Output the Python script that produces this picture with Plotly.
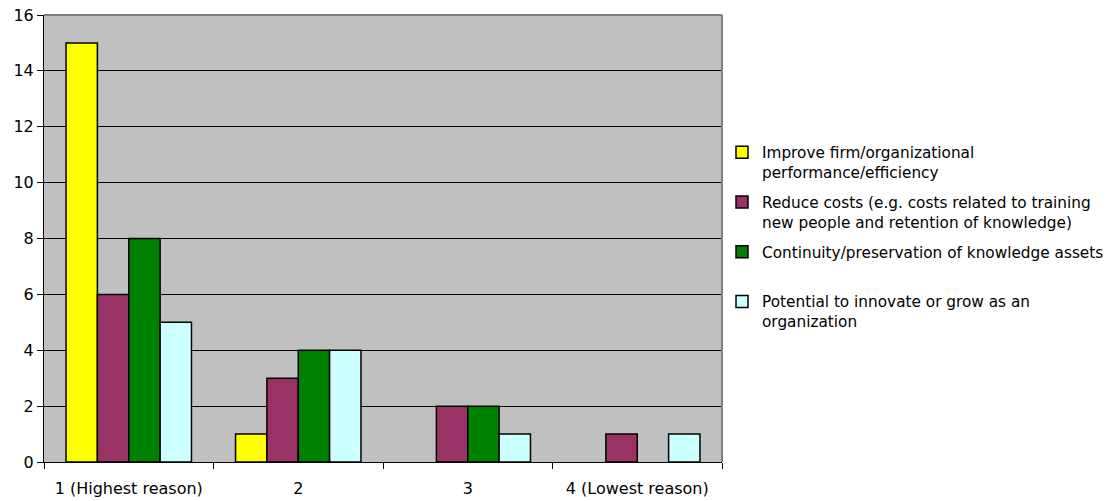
import plotly.graph_objects as go

categories = ["1 (Highest reason)", "2", "3", "4 (Lowest reason)"]
series_names = [
    "Improve firm/organizational<br>performance/efficiency",
    "Reduce costs (e.g. costs related to training<br>new people and retention of knowledge)",
    "Continuity/preservation of knowledge assets<br> ",
    "Potential to innovate or grow as an<br>organization",
]
improve = [15, 1, 0, 0]
reduce_costs = [6, 3, 2, 1]
continuity = [8, 4, 2, 0]
innovate = [5, 4, 1, 1]
colors = ["#FFFF00", "#993366", "#008000", "#CCFFFF"]

FONT = "DejaVu Sans, Liberation Sans, Arial, sans-serif"
FS = 16
LFS = 15.3

fig = go.Figure()
for i, (name, vals, col) in enumerate(zip(series_names, [improve, reduce_costs, continuity, innovate], colors)):
    fig.add_trace(go.Bar(
        x=categories, y=vals, name=name, legendgroup=f"g{i}",
        marker=dict(color=col, line=dict(color="#000000",
                                         width=[1.5 if v else 0 for v in vals])),
    ))

W, H = 1117, 501
ml, mr, mt, mb = 44, 395, 15, 39

fig.update_layout(
    width=W, height=H,
    margin=dict(l=ml, r=mr, t=mt, b=mb, autoexpand=False),
    paper_bgcolor="white",
    plot_bgcolor="#C0C0C0",
    barmode="group",
    bargap=0.26,
    bargroupgap=0,
    font=dict(family=FONT, size=FS, color="#000000"),
    showlegend=True,
    legend=dict(
        x=1.0, y=0.73, xanchor="left", yanchor="top",
        valign="top",
        font=dict(size=LFS),
        bgcolor="rgba(0,0,0,0)",
        itemwidth=30,
        traceorder="grouped",
        tracegroupgap=7,
    ),
    xaxis=dict(
        showline=True, linecolor="#000000", linewidth=1,
        ticks="outside", ticklen=6, tickcolor="#000000",
        tickson="boundaries",
        showgrid=False,
        automargin=False,
        ticklabelstandoff=12,
        tickfont=dict(size=FS),
    ),
    yaxis=dict(
        range=[0, 16], dtick=2,
        showline=True, linecolor="#000000", linewidth=1,
        ticks="outside", ticklen=6, tickcolor="#000000",
        showgrid=True, gridcolor="#000000", gridwidth=1,
        zeroline=False,
        automargin=False,
        tickfont=dict(size=FS),
    ),
    shapes=[
        dict(type="line", xref="paper", yref="paper", x0=0, x1=1, y0=1, y1=1,
             line=dict(color="#808080", width=2)),
        dict(type="line", xref="paper", yref="paper", x0=1, x1=1, y0=0, y1=1,
             line=dict(color="#808080", width=2)),
    ],
)

fig.write_html("out.html")
